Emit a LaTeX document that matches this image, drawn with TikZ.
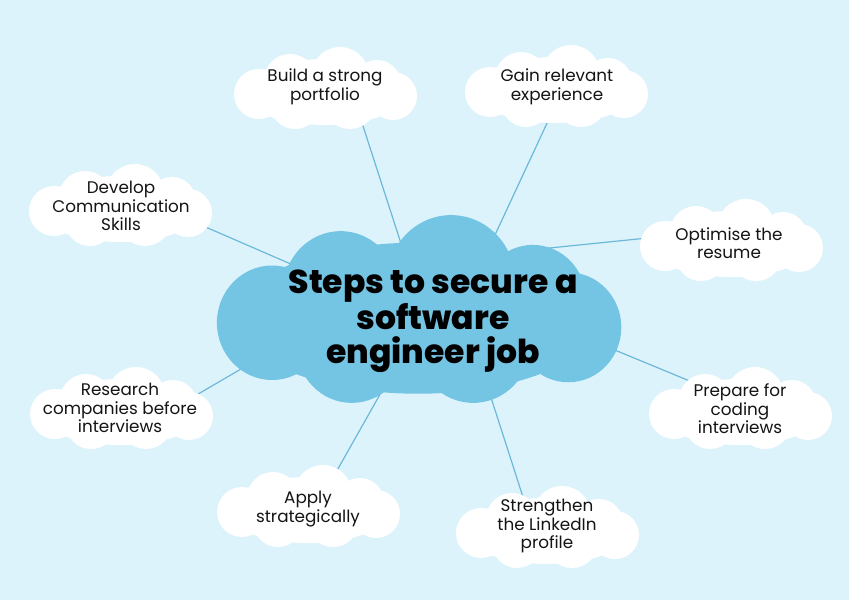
\documentclass[tikz,border=0pt]{standalone}
\usepackage{fontspec}
\setmainfont{Poppins}
\newfontfamily\leaffont{Poppins}
\newfontfamily\titlefont{Poppins ExtraBold}
\usepackage{tikz}
\usetikzlibrary{positioning,calc}
\definecolor{skybg}{RGB}{221,243,252}
\definecolor{hubblue}{RGB}{116,196,227}
\definecolor{spokeblue}{RGB}{108,184,216}
\definecolor{inktext}{RGB}{20,20,20}
\pgfdeclarelayer{background}
\pgfdeclarelayer{clouds}
\pgfsetlayers{background,clouds,main}
\tikzset{
  leaf/.style={font=\leaffont\fontsize{16.8}{18.5}\selectfont, text=inktext, align=center, inner sep=0pt},
  hubtxt/.style={font=\titlefont\fontsize{33}{34}\selectfont, text=black, align=center, inner sep=0pt},
  spoke/.style={spokeblue, line width=1.2pt},
  leafcloud/.pic={
    \fill (0,4) ellipse [x radius=82, y radius=33];
    \fill (-35,-8) circle [radius=26];
    \fill (15,-12) circle [radius=29];
    \fill (52,-4) circle [radius=24];
    \fill (-66,6) circle [radius=25];
    \fill (68,8) circle [radius=24];
    \fill (-30,16) circle [radius=25];
    \fill (25,15) circle [radius=26];
  },
}
\begin{document}
\begin{tikzpicture}[x=1pt,y=-1pt]
\useasboundingbox (0,0) rectangle (849,600);
% texts
\node[hubtxt] (hub) at (433,321) {Steps to secure a\\software\\engineer job};
\node[leaf] (port)  at (325,87)  {Build a strong\\portfolio};
\node[leaf] (exper) at (557,87)  {Gain relevant\\experience};
\node[leaf] (comm)  at (121,206) {Develop\\Communication\\Skills};
\node[leaf] (opt)   at (729,243) {Optimise the\\resume};
\node[leaf] (res)   at (120,408) {Research\\companies before\\interviews};
\node[leaf] (prep)  at (740,409) {Prepare for\\coding\\interviews};
\node[leaf] (apply) at (308,509) {Apply\\strategically};
\node[leaf] (link)  at (547,526) {Strengthen\\the LinkedIn\\profile};
% clouds behind the texts
\begin{pgfonlayer}{clouds}
  \pic[fill=hubblue, xscale=2.21, yscale=2.29] at (418,309) {leafcloud};
  \foreach \p in {(325,88),(556,86),(120,205),(731,240),(121,408),(740,408),(308,506),(547,527)}
    \pic[fill=white] at \p {leafcloud};
\end{pgfonlayer}
% sky and spokes
\begin{pgfonlayer}{background}
  \fill[skybg] (0,0) rectangle (849,600);
  \draw[spoke] ([shift={(-26,-59)}]hub.center) -- ([shift={(27,5)}]port.center);
  \draw[spoke] ([shift={(48,-56)}]hub.center) -- ([shift={(5,4)}]exper.center);
  \draw[spoke] ([shift={(-110,-43)}]hub.center) -- ([shift={(50,6)}]comm.center);
  \draw[spoke] ([shift={(97,-71)}]hub.center) -- ([shift={(-62,-7)}]opt.center);
  \draw[spoke] ([shift={(-120,6)}]hub.center) -- ([shift={(61,-4)}]res.center);
  \draw[spoke] ([shift={(143,13)}]hub.center) -- ([shift={(-43,-25)}]prep.center);
  \draw[spoke] ([shift={(-37,45)}]hub.center) -- ([shift={(18,-19)}]apply.center);
  \draw[spoke] ([shift={(45,36)}]hub.center) -- ([shift={(-16,-4)}]link.center);
\end{pgfonlayer}
\end{tikzpicture}
\end{document}
